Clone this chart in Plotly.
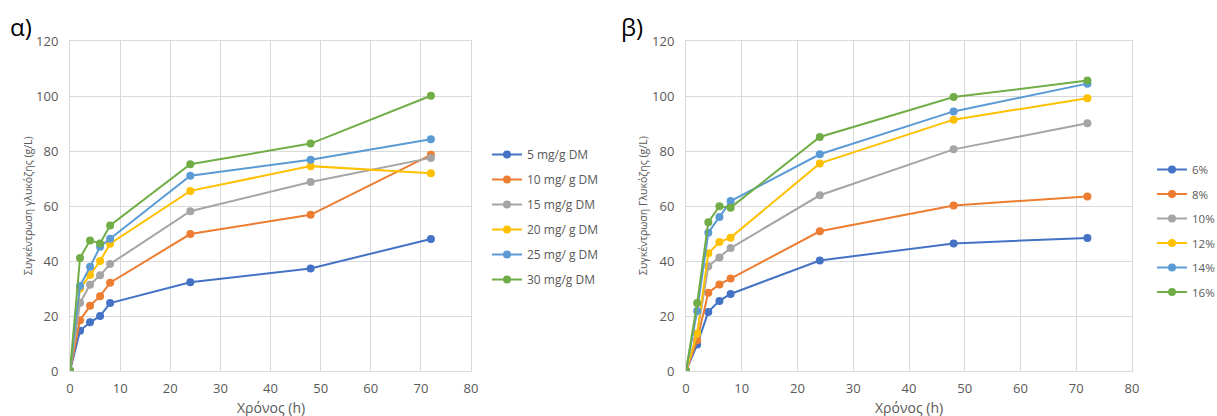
import plotly.graph_objects as go

time_h = [0, 2, 4, 6, 8, 24, 48, 72]

# Panel α
names_a = ["5 mg/g DM", "10 mg/ g DM", "15 mg/g DM", "20 mg/ g DM", "25 mg/ g DM", "30 mg/g DM"]
a_5 = [0, 14.6, 17.7, 20.0, 24.7, 32.3, 37.3, 48.0]
a_10 = [0, 18.5, 23.7, 27.2, 32.1, 49.8, 56.8, 78.6]
a_15 = [0, 24.8, 31.4, 34.8, 38.9, 58.1, 68.7, 77.5]
a_20 = [0, 30.0, 34.9, 40.0, 46.3, 65.5, 74.5, 71.9]
a_25 = [0, 30.9, 37.9, 45.2, 48.1, 71.0, 76.8, 84.3]
a_30 = [0, 41.1, 47.5, 46.4, 52.9, 75.2, 82.7, 100.1]

# Panel β
names_b = ["6%", "8%", "10%", "12%", "14%", "16%"]
b_6 = [0, 9.6, 21.5, 25.5, 28.0, 40.2, 46.4, 48.4]
b_8 = [0, 11.2, 28.5, 31.5, 33.6, 50.8, 60.2, 63.5]
b_10 = [0, 13.6, 38.1, 41.3, 44.7, 63.9, 80.6, 90.1]
b_12 = [0, 13.6, 42.8, 46.9, 48.5, 75.5, 91.4, 99.2]
b_14 = [0, 21.8, 50.3, 56.0, 61.8, 78.8, 94.4, 104.5]
b_16 = [0, 24.7, 54.1, 59.9, 59.4, 85.1, 99.6, 105.6]

colors = ["#4472C4", "#ED7D31", "#A5A5A5", "#FFC000", "#5B9BD5", "#70AD47"]
FONT = "Open Sans"
TXT = "#595959"
GRID = "#D9D9D9"

fig = go.Figure()
for i, (n, v) in enumerate(zip(names_a, [a_5, a_10, a_15, a_20, a_25, a_30])):
    fig.add_trace(go.Scatter(x=time_h, y=v, name=n, mode="lines+markers",
                             line=dict(color=colors[i], width=2),
                             marker=dict(color=colors[i], size=8),
                             xaxis="x", yaxis="y", legend="legend",
                             legendgroup="a%d" % i))
for i, (n, v) in enumerate(zip(names_b, [b_6, b_8, b_10, b_12, b_14, b_16])):
    fig.add_trace(go.Scatter(x=time_h, y=v, name=n, mode="lines+markers",
                             line=dict(color=colors[i], width=2),
                             marker=dict(color=colors[i], size=8),
                             xaxis="x2", yaxis="y2", legend="legend2",
                             legendgroup="b%d" % i))

W, H = 1217, 416
def px_x(p):
    return p / W
def px_y(p):
    return (H - p) / H

ax_common = dict(range=[0, 80], dtick=10, showgrid=True, gridcolor=GRID, gridwidth=1,
                 zeroline=False, showline=True, linecolor=GRID, ticks="", automargin=False,
                 ticklabelstandoff=5,
                 tickfont=dict(family=FONT, size=13, color=TXT), mirror=True)
ay_common = dict(range=[0, 120], dtick=20, showgrid=True, gridcolor=GRID, gridwidth=1,
                 zeroline=False, showline=True, linecolor=GRID, ticks="", automargin=False,
                 ticklabelstandoff=8,
                 tickfont=dict(family=FONT, size=13, color=TXT), mirror=True)

def ann(text, x, y, size, angle=0, color=TXT):
    return dict(text=text, x=px_x(x), y=px_y(y), xref="paper", yref="paper",
                xanchor="center", yanchor="middle", showarrow=False, textangle=angle,
                font=dict(family=FONT, size=size, color=color))

fig.update_layout(
    width=W, height=H,
    margin=dict(l=0, r=0, t=0, b=0, autoexpand=False),
    paper_bgcolor="white", plot_bgcolor="white",
    font=dict(family=FONT, color=TXT),
    xaxis=dict(domain=[px_x(70), px_x(471)], anchor="y", **ax_common),
    yaxis=dict(domain=[px_y(371), px_y(41)], anchor="x", **ay_common),
    xaxis2=dict(domain=[px_x(686), px_x(1132)], anchor="y2", **ax_common),
    yaxis2=dict(domain=[px_y(371), px_y(41)], anchor="x2", **ay_common),
    legend=dict(x=px_x(487), y=px_y(140), xanchor="left", yanchor="top",
                font=dict(family=FONT, size=12, color=TXT), tracegroupgap=6,
                traceorder="grouped", bgcolor="rgba(0,0,0,0)", itemwidth=30),
    legend2=dict(x=px_x(1152), y=px_y(155), xanchor="left", yanchor="top",
                 font=dict(family=FONT, size=11.5, color=TXT), tracegroupgap=5.5,
                 traceorder="grouped", bgcolor="rgba(0,0,0,0)", itemwidth=30),
    showlegend=True,
    annotations=[
        ann("α)", 21, 27, 24, color="#000000"),
        ann("β)", 632, 27, 24, color="#000000"),
        ann("Συγκέντρωση γλυκόζης (g/L)", 28, 206, 10.5, angle=-90),
        ann("Συγκέντρωση Γλυκόζης (g/L)", 643, 206, 10.5, angle=-90),
        ann("Χρόνος (h)", 271, 407, 14),
        ann("Χρόνος (h)", 909, 407, 14),
    ],
)

fig.write_html("out.html", config={"displayModeBar": False},
               post_script="document.body.style.margin='0';document.body.style.overflow='hidden';")
